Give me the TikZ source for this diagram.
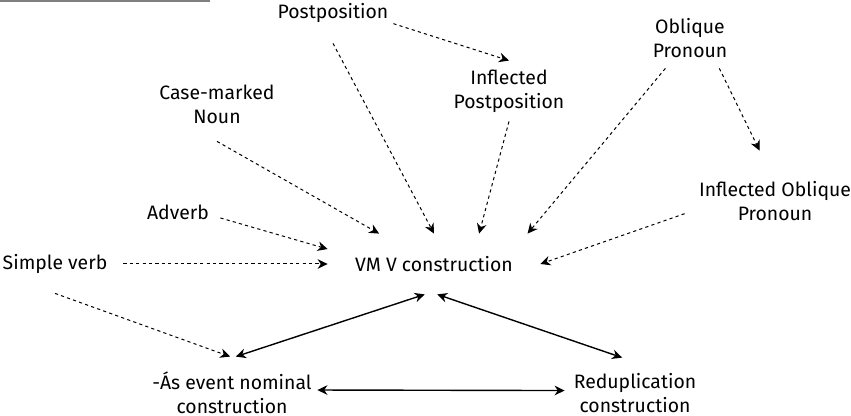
\documentclass[tikz,border=0pt]{standalone}
\usepackage{fontspec}
\setmainfont{Fira Sans}
\usetikzlibrary{arrows.meta}
\begin{document}
\begin{tikzpicture}[x=0.5pt, y=-0.5pt, every node/.style={font=\fontsize{9.7}{12}\selectfont},
  item/.style={align=center, inner sep=0pt, minimum width=60pt, minimum height=30pt},
  link/.style={-{Stealth[length=5pt,width=4.8pt,inset=1.6pt]}, line width=0.5pt, dash pattern=on 1.6pt off 1.6pt},
  both/.style={{Stealth[length=5pt,width=4.8pt,inset=1.6pt]}-{Stealth[length=5pt,width=4.8pt,inset=1.6pt]}, line width=0.7pt}]
\useasboundingbox (0,0) rectangle (851,416);
\draw[gray, line width=1pt] (0,1) -- (210,1);
\node[item] (post) at (333,13) {Postposition};
\node[item] (inflpost) at (509,91) {Inflected\\Postposition};
\node[item] (obl) at (690,38) {Oblique\\Pronoun};
\node[item, minimum width=90pt, minimum height=50pt] (inflobl) at (775,201) {Inflected Oblique\\Pronoun};
\node[item, minimum height=37pt] (casen) at (217,104) {Case-marked\\Noun};
\node[item, minimum width=42pt, minimum height=20pt] (adverb) at (178,212) {Adverb};
\node[item, minimum width=68pt, minimum height=29pt] (simple) at (55,264) {Simple verb};
\node[item, minimum width=106pt] (vm) at (434,264) {VM V construction};
\node[item, minimum width=85pt, minimum height=36pt] (nom) at (232,393) {-Ás event nominal\\construction};
\node[item, minimum width=70pt, minimum height=35pt] (redup) at (635,393) {Reduplication\\construction};
% dashed: sources of the construction
\draw[link] (post.-10) -- (inflpost.north);
\draw[link] (post.south) -- (vm.north);
\draw[link] (inflpost.south) -- (vm.34);
\draw[link] (obl.-129) -- (vm.18);
\draw[link] (obl.-46) -- (inflobl.107);
\draw[link] (inflobl.188) -- (vm.east);
\draw[link] (casen.south) -- (vm.151);
\draw[link] (adverb.-8) -- (vm.172);
\draw[link] (simple.east) -- (vm.west);
\draw[link] (simple.south) -- (nom.93);
% solid: related constructions
\draw[both] (vm.-107) -- (nom.84);
\draw[both] (vm.-84) -- (redup.110);
\draw[both] (nom.2) -- (redup.178);
\end{tikzpicture}
\end{document}
